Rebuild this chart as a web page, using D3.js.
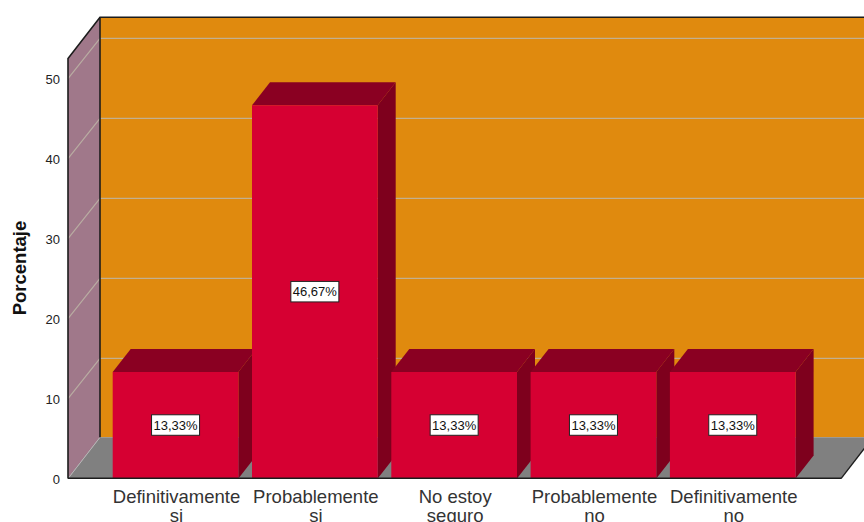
<!DOCTYPE html>
<html>
<head>
<meta charset="utf-8">
<script src="https://cdn.jsdelivr.net/npm/d3@7"></script>
<style>
html,body{margin:0;padding:0;background:#fff;overflow:hidden}
svg{display:block}
text{font-family:"Liberation Sans",Arial,sans-serif}
</style>
</head>
<body>
<svg id="chart" width="864" height="522"></svg>
<script>
// Survey answers and the share of respondents for each one
const categories = [
  ["Definitivamente", "si"],
  ["Probablemente", "si"],
  ["No estoy", "seguro"],
  ["Probablemente", "no"],
  ["Definitivamente", "no"]
];
const percentages = [13.33, 46.67, 13.33, 13.33, 13.33];
const yTicks = [0, 10, 20, 30, 40, 50];
const yMax = 52.5;

const svg = d3.select("#chart");

const y = d3.scaleLinear().domain([0, yMax]).range([478.6, 58.6]);
const x = d3.scaleBand()
  .domain(categories.map((_, i) => i))
  .range([105.9, 802.4])
  .paddingInner(0.0976)
  .paddingOuter(0.0488);

// Oblique offsets of the chart box and of each bar
const wall = {dx: 32, dy: -41.3};
const barDepth = {dx: 18, dy: -23};
const plotLeft = 68, plotRight = 841, plotBottom = y(0), plotTop = y(yMax);

const poly = (pts, fill) => svg.append("polygon")
  .attr("points", pts.map(p => p.join(",")).join(" "))
  .attr("fill", fill);

// Back wall, side wall and floor
poly([[plotLeft + wall.dx, plotTop + wall.dy], [874, plotTop + wall.dy], [874, plotBottom + wall.dy], [plotLeft + wall.dx, plotBottom + wall.dy]], "#E08A0E");
poly([[plotLeft, plotTop], [plotLeft + wall.dx, plotTop + wall.dy], [plotLeft + wall.dx, plotBottom + wall.dy], [plotLeft, plotBottom]], "#A0788A");
poly([[plotLeft, plotBottom], [plotLeft + wall.dx, plotBottom + wall.dy], [plotRight + wall.dx, plotBottom + wall.dy], [plotRight, plotBottom]], "#808080");

// Gridlines run along the back wall and fold down the side wall
const gridTicks = yTicks.filter(t => t > 0);
svg.append("g").selectAll("path").data(gridTicks).join("path")
  .attr("d", t => `M${plotLeft},${y(t)}L${plotLeft + wall.dx},${y(t) + wall.dy + 1}L864,${y(t) + wall.dy + 1}`)
  .attr("fill", "none")
  .attr("stroke", "#BDB5A6")
  .attr("stroke-opacity", 0.85)
  .attr("stroke-width", 1.2);
svg.append("path")
  .attr("d", `M${plotLeft},${plotBottom}L${plotLeft + wall.dx},${plotBottom + wall.dy}`)
  .attr("stroke", "#B5B5B5").attr("stroke-width", 1).attr("fill", "none");

// Dark frame edges
const frameColor = "#1C1C1C";
svg.append("path")
  .attr("d", `M${plotLeft},${plotBottom}V${plotTop}L${plotLeft + wall.dx},${plotTop + wall.dy}H864`)
  .attr("fill", "none").attr("stroke", frameColor).attr("stroke-width", 1.6);
svg.append("path")
  .attr("d", `M${plotLeft + wall.dx},${plotTop + wall.dy}V${plotBottom + wall.dy}`)
  .attr("fill", "none").attr("stroke", frameColor).attr("stroke-width", 1.6);
svg.append("path")
  .attr("d", `M${plotRight},${plotBottom}L${plotRight + wall.dx},${plotBottom + wall.dy}`)
  .attr("fill", "none").attr("stroke", frameColor).attr("stroke-width", 1.4);

// Extruded bars: side face, top face, then front face
const bars = svg.append("g").selectAll("g").data(percentages).join("g");
bars.each(function (v, i) {
  const g = d3.select(this);
  const x0 = x(i), x1 = x0 + x.bandwidth(), yt = y(v), yb = y(0);
  const face = (pts, fill) => g.append("polygon")
    .attr("points", pts.map(p => p.join(",")).join(" "))
    .attr("fill", fill);
  face([[x1, yt], [x1 + barDepth.dx, yt + barDepth.dy], [x1 + barDepth.dx, yb + barDepth.dy], [x1, yb]], "#7E001D");
  face([[x0, yt], [x0 + barDepth.dx, yt + barDepth.dy], [x1 + barDepth.dx, yt + barDepth.dy], [x1, yt]], "#8A0022");
  face([[x0, yt], [x1, yt], [x1, yb], [x0, yb]], "#D60032");
});

// Baseline in front of the bars
svg.append("line")
  .attr("x1", plotLeft).attr("x2", plotRight).attr("y1", plotBottom - 0.4).attr("y2", plotBottom - 0.4)
  .attr("stroke", frameColor).attr("stroke-width", 1.6);

// Value labels in white boxes, centred on each bar's front face
const fmt = v => v.toFixed(2).replace(".", ",") + "%";
const labels = svg.append("g").selectAll("g").data(percentages).join("g")
  .attr("transform", (v, i) => `translate(${x(i) + x.bandwidth() / 2},${(y(v) + y(0)) / 2})`);
labels.append("rect")
  .attr("x", -24).attr("y", -10.5).attr("width", 48).attr("height", 20.5)
  .attr("fill", "#fff").attr("stroke", "#222").attr("stroke-width", 1);
labels.append("text")
  .attr("text-anchor", "middle").attr("y", 4.5)
  .attr("font-size", 13).attr("fill", "#111")
  .text(fmt);

// Value axis, drawn with ticks hidden since the frame supplies the line
const axis = svg.append("g")
  .attr("transform", `translate(${plotLeft},1)`)
  .call(d3.axisLeft(y).tickValues(yTicks).tickSize(0).tickPadding(8));
axis.select(".domain").remove();
axis.selectAll("text")
  .attr("font-size", 13)
  .attr("font-family", '"Liberation Sans",Arial,sans-serif')
  .attr("fill", "#222");

svg.append("text")
  .attr("transform", "translate(26,268) rotate(-90)")
  .attr("text-anchor", "middle")
  .attr("font-size", 18.5).attr("font-weight", "bold").attr("fill", "#111")
  .text("Porcentaje");

// Two-line category labels
const catLabels = svg.append("g").selectAll("text").data(categories).join("text")
  .attr("text-anchor", "middle")
  .attr("font-size", 18.5).attr("fill", "#333");
catLabels.selectAll("tspan").data((d, i) => d.map(s => ({s, i}))).join("tspan")
  .attr("x", d => x(d.i) + x.bandwidth() / 2 + 1)
  .attr("y", (d, j) => 503 + j * 18.5)
  .text(d => d.s);
</script>
</body>
</html>
